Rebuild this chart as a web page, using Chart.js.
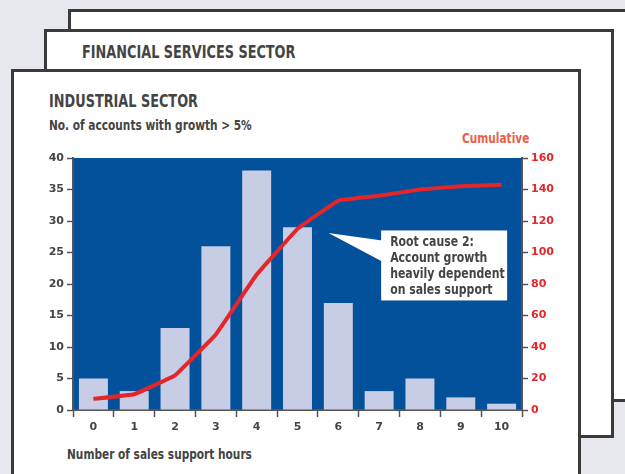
<!DOCTYPE html>
<html>
<head>
<meta charset="utf-8">
<script src="https://cdn.jsdelivr.net/npm/chart.js@4/dist/chart.umd.min.js"></script>
<style>
  body { margin:0; background:#e6e8ee; width:625px; height:474px; overflow:hidden; position:relative;
         font-family:"DejaVu Sans",sans-serif; font-stretch:condensed; font-weight:bold; }
  .page { position:absolute; background:#fff; border:3px solid #3a3a3a; box-sizing:border-box; }
  .txt { position:absolute; color:#444; white-space:nowrap; transform-origin:0 0; transform:scaleX(0.84); }
  #myChart { position:absolute; left:0; top:0; }
</style>
</head>
<body>
<div class="page" style="left:68px;top:9px;width:600px;height:393px"></div>
<div class="page" style="left:44px;top:29px;width:570px;height:409px"></div>
<div class="txt" style="left:82px;top:42px;font-size:17px">FINANCIAL SERVICES SECTOR</div>
<div class="page" style="left:11px;top:69px;width:570px;height:420px"></div>
<div class="txt" style="left:49px;top:91px;font-size:17px">INDUSTRIAL SECTOR</div>
<div class="txt" style="left:49px;top:117px;font-size:14px">No. of accounts with growth &gt; 5%</div>
<div class="txt" style="left:462px;top:130px;font-size:14px;color:#e8604a">Cumulative</div>
<div class="txt" style="left:67px;top:446px;font-size:14px">Number of sales support hours</div>
<canvas id="myChart" width="625" height="474"></canvas>
<script>
// hours of sales support
const hours = ["0","1","2","3","4","5","6","7","8","9","10"]
// number of accounts with growth > 5%
const accounts = [5, 3, 13, 26, 38, 29, 17, 3, 5, 2, 1]
// cumulative line (right axis)
const cumulative = [7, 10, 22, 48, 86, 115, 133, 136, 140, 142, 143]
const calloutLines = ["Root cause 2:", "Account growth", "heavily dependent", "on sales support"]

const tickFont = {family: "DejaVu Sans", size: 11, weight: "bold"}

// blue plot background
const plotBg = {
  id: 'plotBg',
  beforeDraw(chart){
    const a = chart.chartArea, c = chart.ctx
    c.save()
    c.fillStyle = '#03509b'
    c.fillRect(a.left, a.top, a.right - a.left, a.bottom - a.top)
    c.restore()
  }
}

// callout box with pointer
const callout = {
  id: 'callout',
  afterDatasetsDraw(chart){
    const c = chart.ctx, x = chart.scales.x, y = chart.scales.y
    const bx = x.getPixelForValue(7) + 2, by = y.getPixelForValue(28.5)
    const bw = 126, bh = 70
    const tipX = x.getPixelForValue(5) + 31, tipY = y.getPixelForValue(28.1)
    c.save()
    c.fillStyle = '#fff'
    c.beginPath()
    c.moveTo(tipX, tipY)
    c.lineTo(bx + 1, by + 10)
    c.lineTo(bx + 1, by + 31)
    c.closePath()
    c.fill()
    c.fillRect(bx, by, bw, bh)
    c.fillStyle = '#444'
    c.font = 'bold 14px "DejaVu Sans",sans-serif'
    c.textBaseline = 'middle'
    c.translate(bx + 9, by + 12)
    c.scale(0.78, 1)
    calloutLines.forEach((t, i) => c.fillText(t, 0, i * 16))
    c.restore()
  }
}

let myChart = new Chart("myChart", {
  data: {
    labels: hours,
    datasets: [{
      type: 'line',
      data: cumulative,
      yAxisID: 'y1',
      borderColor: '#e4262b',
      borderWidth: 4,
      pointRadius: 0,
      tension: 0.05,
      order: 0
    }, {
      type: 'bar',
      data: accounts,
      yAxisID: 'y',
      backgroundColor: '#c6cde4',
      categoryPercentage: 1,
      barPercentage: 0.71,
      order: 1
    }]
  },
  options: {
    responsive: false,
    animation: false,
    layout: {padding: {top: 158, left: 0, right: 0, bottom: 0}},
    plugins: {legend: {display: false}, tooltip: {enabled: false}},
    scales: {
      x: {
        grid: {drawOnChartArea: false, tickLength: 7, color: '#555', tickWidth: 1.5, offset: true},
        border: {color: '#555', width: 2},
        ticks: {color: '#444', font: tickFont, padding: 4},
        afterFit: s => { s.height = 64 }
      },
      y: {
        position: 'left',
        min: 0, max: 40,
        grid: {drawOnChartArea: false, tickLength: 6, color: '#555', tickWidth: 1.5},
        border: {color: '#555', width: 2},
        ticks: {stepSize: 5, color: '#444', font: tickFont, padding: 3},
        afterFit: s => { s.width = 73 }
      },
      y1: {
        position: 'right',
        min: 0, max: 160,
        grid: {drawOnChartArea: false, tickLength: 6, color: '#555', tickWidth: 1.5},
        border: {color: '#555', width: 2},
        ticks: {stepSize: 20, color: '#e4262b', font: tickFont, padding: 3},
        afterFit: s => { s.width = 103 }
      }
    }
  },
  plugins: [plotBg, callout]
})
</script>
</body>
</html>
